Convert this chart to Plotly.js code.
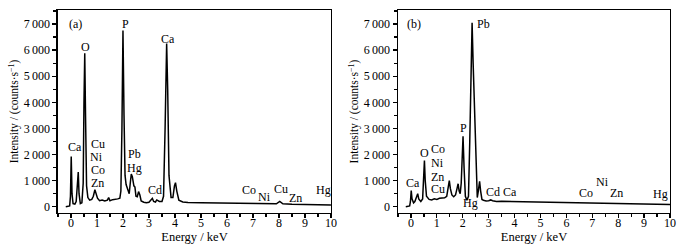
<!DOCTYPE html>
<html>
<head>
<meta charset="utf-8">
<script src="https://cdn.plot.ly/plotly-3.0.1.min.js"></script>
<style>html,body{margin:0;padding:0;background:#fff;}#chart{width:682px;height:248px;}</style>
</head>
<body>
<div id="chart"></div>
<script>
// Spectrum (a)
const energyA = [-0.2,-0.1,-0.05,-0.02,0.01,0.04,0.08,0.15,0.2,0.25,0.28,0.31,0.36,0.42,0.47,0.5,0.53,0.56,0.6,0.65,0.72,0.8,0.86,0.92,0.96,1.02,1.1,1.2,1.3,1.4,1.45,1.5,1.6,1.7,1.8,1.88,1.92,1.96,2.0,2.04,2.08,2.12,2.18,2.24,2.28,2.32,2.36,2.42,2.46,2.5,2.55,2.6,2.65,2.7,2.8,2.9,3.0,3.08,3.13,3.18,3.25,3.3,3.4,3.5,3.56,3.62,3.68,3.72,3.77,3.85,3.92,3.98,4.02,4.07,4.15,4.3,4.5,5,5.5,6,6.5,7,7.5,7.9,8.03,8.15,8.5,9,9.5,10];
const countsA = [0,10,30,400,1920,500,120,100,200,900,1330,500,120,150,900,4000,5880,3500,800,350,250,280,400,650,550,330,230,260,220,250,350,230,270,280,300,330,600,3000,6750,3500,1200,850,650,500,900,1250,1150,800,750,400,380,580,450,220,170,150,170,250,320,200,180,260,200,200,400,3000,6250,4500,1200,350,350,800,920,600,250,180,160,150,140,130,120,115,100,110,200,110,90,80,75,70];
// Spectrum (b)
const energyB = [-0.2,-0.05,-0.02,0.01,0.04,0.1,0.15,0.22,0.26,0.3,0.38,0.45,0.49,0.52,0.55,0.6,0.7,0.8,0.9,1.0,1.1,1.2,1.3,1.38,1.44,1.48,1.52,1.58,1.65,1.72,1.78,1.82,1.86,1.9,1.94,1.98,2.01,2.05,2.1,2.16,2.22,2.27,2.32,2.36,2.4,2.44,2.47,2.52,2.56,2.6,2.65,2.69,2.74,2.8,2.9,3.0,3.08,3.15,3.3,3.5,4,4.5,5,5.5,6,6.5,7,7.5,8,8.5,9,9.5,10];
const countsB = [0,30,200,620,300,150,200,350,500,300,200,300,900,1770,1000,400,280,260,300,280,320,330,340,400,800,1000,700,450,380,450,700,880,600,500,900,2200,2700,1500,400,250,400,2500,6000,7050,5500,4300,3200,1200,350,600,970,600,280,250,220,230,260,230,200,210,200,195,185,180,175,160,150,140,130,120,105,95,85];

// Element labels
const labelsA = ["(a)","O","P","Ca","Ca","Cu","Ni","Co","Zn","Pb","Hg","Cd","Co","Ni","Cu","Zn","Hg"];
const labelAx = [0.19,0.55,2.08,3.74,0.15,1.03,1.0,1.03,1.03,2.44,2.45,3.23,6.86,7.46,8.06,8.62,9.7];
const labelAy = [7000,6100,7000,6425,2275,2400,1915,1405,920,2010,1495,650,640,385,680,345,640];
const labelsB = ["(b)","Pb","P","O","Co","Ni","Zn","Cu","Ca","Hg","Cd","Ca","Co","Ni","Zn","Hg"];
const labelBx = [0.13,2.79,2.02,0.52,1.04,1.02,1.04,1.04,0.08,2.28,3.15,3.82,6.74,7.38,7.92,9.63];
const labelBy = [7000,7000,3000,2045,2200,1660,1150,665,920,155,563,563,536,958,513,487];

const yTickVals = [0,1000,2000,3000,4000,5000,6000,7000];
const yTickText = ["0","1\u2009000","2\u2009000","3\u2009000","4\u2009000","5\u2009000","6\u2009000","7\u2009000"];
const xTickVals = [0,1,2,3,4,5,6,7,8,9,10];

const FONT = "Liberation Serif";

const traces = [
  {x: energyA, y: countsA, type:"scatter", mode:"lines", line:{color:"#000", width:1.5}, xaxis:"x", yaxis:"y", hoverinfo:"skip"},
  {x: energyB, y: countsB, type:"scatter", mode:"lines", line:{color:"#000", width:1.5}, xaxis:"x2", yaxis:"y2", hoverinfo:"skip"}
];

function xAxis(domain, anchor) {
  return {
    domain: domain, anchor: anchor, range: [-0.5, 10],
    tickvals: xTickVals, ticktext: xTickVals.map(String),
    ticks: "outside", ticklen: 4, tickwidth: 1.2, tickcolor: "#000",
    ticklabelstandoff: -5,
    minor: {dtick: 0.5, tick0: 0, ticks: "outside", ticklen: 3, tickwidth: 1.2, tickcolor: "#000"},
    showline: true, linecolor: "#000", linewidth: 1.5, mirror: true,
    showgrid: false, zeroline: false,
    tickfont: {family: FONT, size: 12, color: "#000"},
    title: {text: "Energy / keV", font: {family: FONT, size: 12.5, color: "#000"}, standoff: 0}
  };
}
function yAxis(domain, anchor) {
  return {
    domain: domain, anchor: anchor, range: [-222, 7517],
    tickvals: yTickVals, ticktext: yTickText,
    ticks: "outside", ticklen: 4, tickwidth: 1.2, tickcolor: "#000",
    minor: {dtick: 500, tick0: 0, ticks: "outside", ticklen: 3, tickwidth: 1.2, tickcolor: "#000"},
    showline: true, linecolor: "#000", linewidth: 1.5, mirror: true,
    showgrid: false, zeroline: false,
    tickfont: {family: FONT, size: 12, color: "#000"},
    title: {text: "Intensity / (counts·s<sup>−1</sup>)", font: {family: FONT, size: 11.5, color: "#000"}, standoff: 2}
  };
}

const annotations = [];
labelsA.forEach((t, i) => annotations.push({
  x: labelAx[i], y: labelAy[i], xref: "x", yref: "y", text: t, showarrow: false,
  font: {family: FONT, size: 12, color: "#000"}
}));
labelsB.forEach((t, i) => annotations.push({
  x: labelBx[i], y: labelBy[i], xref: "x2", yref: "y2", text: t, showarrow: false,
  font: {family: FONT, size: 12, color: "#000"}
}));

const layout = {
  width: 682, height: 248,
  margin: {l: 0, r: 0, t: 0, b: 0},
  paper_bgcolor: "#fff", plot_bgcolor: "#fff",
  font: {family: FONT, color: "#000"},
  showlegend: false,
  xaxis: xAxis([0.0850, 0.4853], "y"),
  yaxis: yAxis([0.1431, 0.9577], "x"),
  xaxis2: xAxis([0.5836, 0.9824], "y2"),
  yaxis2: yAxis([0.1431, 0.9577], "x2"),
  annotations: annotations
};

Plotly.newPlot("chart", traces, layout, {displayModeBar: false, staticPlot: true});
</script>
</body>
</html>
